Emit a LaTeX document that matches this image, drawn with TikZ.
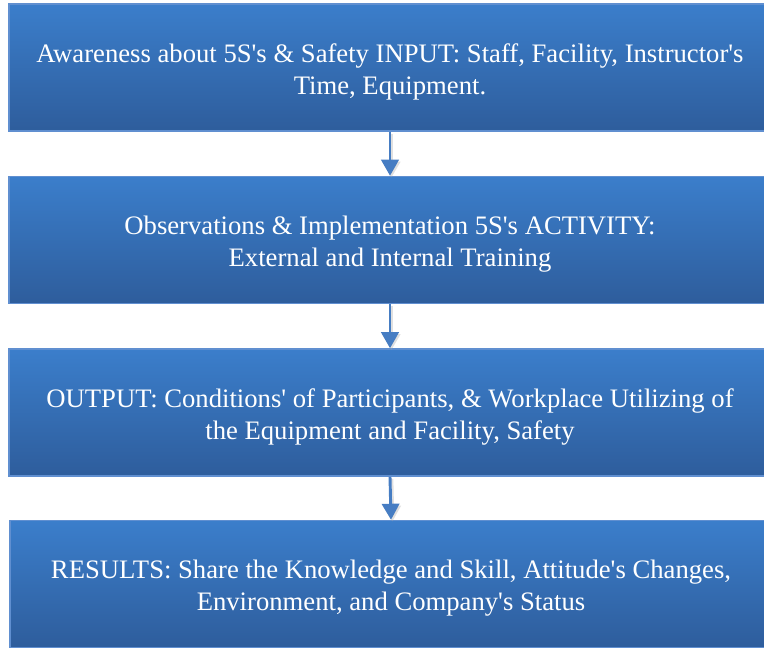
\documentclass[tikz,border=0pt]{standalone}
\usepackage{fontspec}
\setmainfont{Liberation Serif}
\usetikzlibrary{arrows.meta}
\definecolor{boxtop}{RGB}{59,126,203}
\definecolor{boxbottom}{RGB}{46,93,156}
\definecolor{boxedge}{RGB}{96,143,208}
\definecolor{arrowblue}{RGB}{70,125,195}
\newcommand\apos{\textquotesingle}
\begin{document}
\begin{tikzpicture}[x=0.75pt,y=-0.75pt,
  stagebox/.style={rectangle, draw=boxedge, line width=1.2pt,
    top color=boxtop, bottom color=boxbottom,
    minimum width=762*0.75pt, minimum height=127*0.75pt, inner sep=0pt},
  stagetext/.style={text=white, align=center, inner sep=0pt,
    font=\fontsize{20pt}{24pt}\selectfont},
  flowarrow/.style={draw=arrowblue, line width=2.2pt,
    -{Triangle[length=12pt,width=13pt]},
    preaction={draw=black!35, opacity=0.35, line width=3pt,
      transform canvas={xshift=1pt,yshift=-1.5pt}}}
]
\useasboundingbox (0,0) rectangle (764,647);
% the four stages
\node[stagebox] (input)    at (390,67.5) {};
\node[stagebox] (activity) at (390,240)  {};
\node[stagebox] (output)   at (390,412.5) {};
\node[stagebox] (results)  at (391,584)  {};
% their texts
\node[stagetext] (inputtext) at ([yshift=-3pt]input.center)
  {Awareness about 5S\apos s \& Safety INPUT: Staff, Facility, Instructor\apos s\\Time, Equipment.};
\node[stagetext] (activitytext) at ([yshift=-3pt]activity.center)
  {Observations \& Implementation 5S\apos s ACTIVITY:\\External and Internal Training};
\node[stagetext] (outputtext) at ([yshift=-3pt]output.center)
  {OUTPUT: Conditions\apos{} of Participants, \& Workplace Utilizing of\\the Equipment and Facility, Safety};
\node[stagetext] (resultstext) at ([yshift=-3pt]results.center)
  {RESULTS: Share the Knowledge and Skill, Attitude\apos s Changes,\\Environment, and Company\apos s Status};
% connectors
\draw[flowarrow] (input.south) -- (activity.north);
\draw[flowarrow] (activity.south) -- (output.north);
\draw[flowarrow] (output.south) -- (results.north);
\end{tikzpicture}
\end{document}
